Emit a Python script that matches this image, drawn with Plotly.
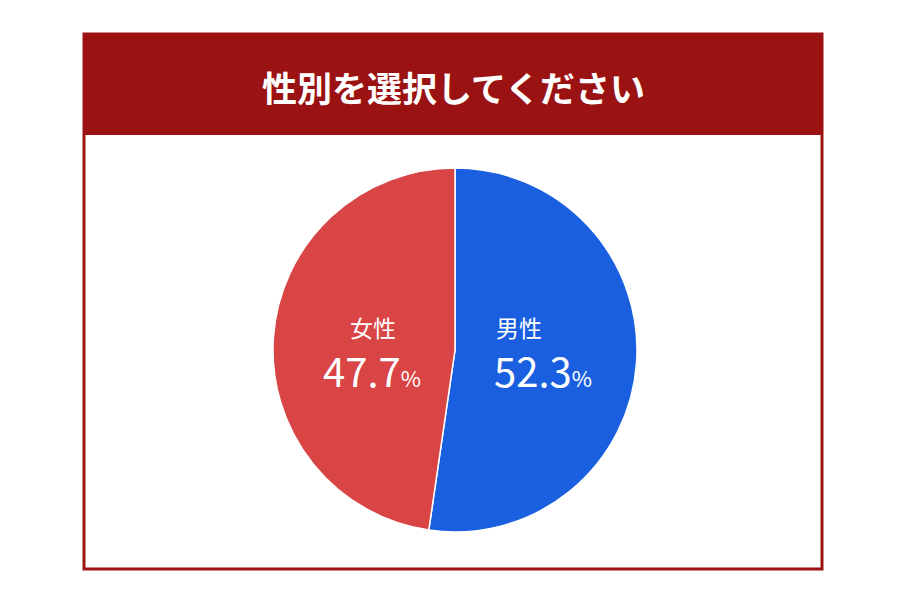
import plotly.graph_objects as go

# data
labels = ["男性", "女性"]
values = [52.3, 47.7]
colors = ["#1a5fe0", "#d94444"]
title = "性別を選択してください"

W, H = 899, 600
OFF = 8  # page body margin

def px(x):
    return (x - OFF) / W

def py(y):
    return 1 - (y - OFF) / H

fig = go.Figure()
fig.add_trace(go.Pie(labels=labels, values=values, sort=False, direction="clockwise",
                     rotation=0, textinfo="none", hoverinfo="label+percent",
                     marker=dict(colors=colors, line=dict(color="white", width=1.5)),
                     domain=dict(x=[px(273), px(637)], y=[py(532), py(168)]),
                     showlegend=False))

# frame and header
fig.add_shape(type="rect", xref="paper", yref="paper", x0=px(84), x1=px(822), y0=py(569), y1=py(34),
              line=dict(color="#9b1212", width=3), fillcolor="white", layer="below")
fig.add_shape(type="rect", xref="paper", yref="paper", x0=px(84), x1=px(822), y0=py(135), y1=py(34),
              line=dict(width=0), fillcolor="#9b1212", layer="below")
fig.add_annotation(x=px(453), y=py(86), xref="paper", yref="paper", text="<b>" + title + "</b>",
                   showarrow=False, xanchor="center", yanchor="middle",
                   font=dict(size=35, color="white", family="Noto Sans CJK JP"))

# slice labels
pos = [(519, 543, 327, 370), (373, 372, 327, 370)]
for lab, val, (xl, xv, y1, y2) in zip(labels, values, pos):
    fig.add_annotation(x=px(xl), y=py(y1), xref="paper", yref="paper",
                       text=lab, showarrow=False, xanchor="center", yanchor="middle",
                       font=dict(size=23, color="white", family="Noto Sans CJK JP"))
    fig.add_annotation(x=px(xv), y=py(y2), xref="paper", yref="paper",
                       text=f"{val}<span style='font-size:22px'>%</span>", showarrow=False,
                       xanchor="center", yanchor="middle",
                       font=dict(size=40, color="white", family="Noto Sans CJK JP"))

fig.update_layout(width=W, height=H, margin=dict(l=0, r=0, t=0, b=0),
                  paper_bgcolor="white", plot_bgcolor="white")
fig.write_html("out.html")
